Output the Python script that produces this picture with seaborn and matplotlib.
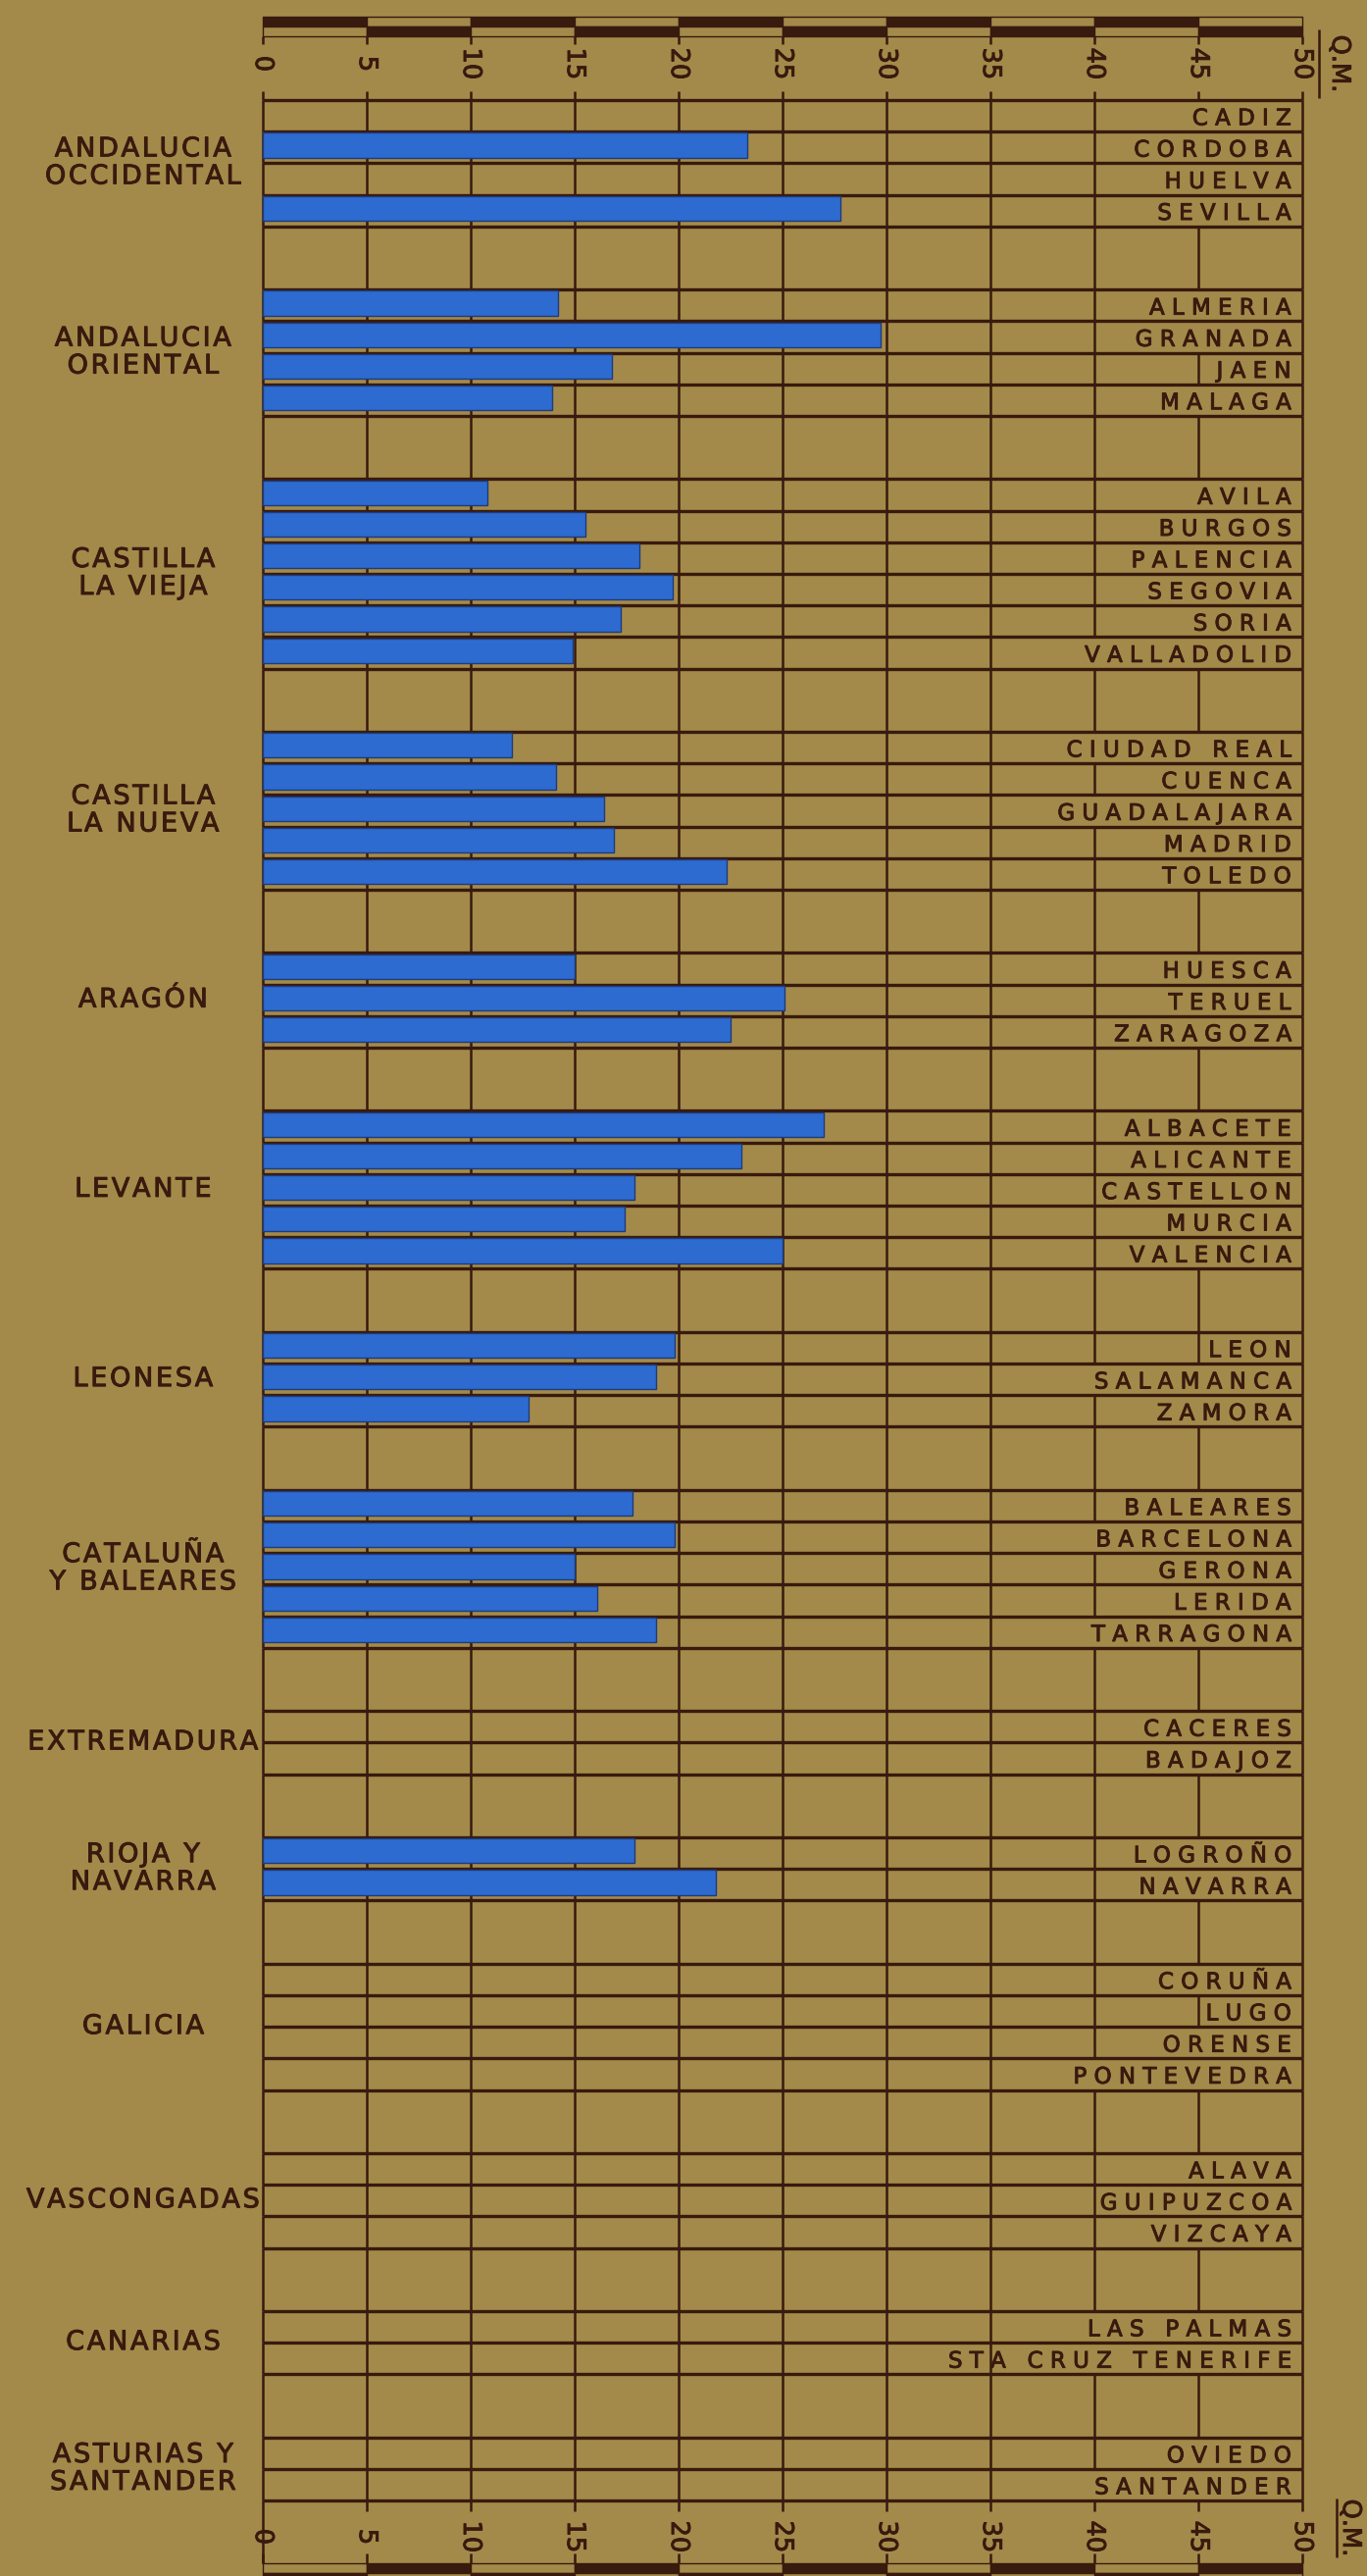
import pandas as pd
import matplotlib
matplotlib.use('Agg')
import matplotlib.pyplot as plt
import matplotlib.patheffects as pe
import seaborn as sns
from matplotlib.patches import Rectangle

# Regiones (de arriba abajo) y sus provincias
regiones = ['ANDALUCIA\nOCCIDENTAL', 'ANDALUCIA\nORIENTAL', 'CASTILLA\nLA VIEJA',
            'CASTILLA\nLA NUEVA', 'ARAGÓN', 'LEVANTE', 'LEONESA', 'CATALUÑA\nY BALEARES',
            'EXTREMADURA', 'RIOJA Y\nNAVARRA', 'GALICIA', 'VASCONGADAS', 'CANARIAS',
            'ASTURIAS Y\nSANTANDER']

provincias = [
    ['CADIZ', 'CORDOBA', 'HUELVA', 'SEVILLA'],
    ['ALMERIA', 'GRANADA', 'JAEN', 'MALAGA'],
    ['AVILA', 'BURGOS', 'PALENCIA', 'SEGOVIA', 'SORIA', 'VALLADOLID'],
    ['CIUDAD REAL', 'CUENCA', 'GUADALAJARA', 'MADRID', 'TOLEDO'],
    ['HUESCA', 'TERUEL', 'ZARAGOZA'],
    ['ALBACETE', 'ALICANTE', 'CASTELLON', 'MURCIA', 'VALENCIA'],
    ['LEON', 'SALAMANCA', 'ZAMORA'],
    ['BALEARES', 'BARCELONA', 'GERONA', 'LERIDA', 'TARRAGONA'],
    ['CACERES', 'BADAJOZ'],
    ['LOGROÑO', 'NAVARRA'],
    ['CORUÑA', 'LUGO', 'ORENSE', 'PONTEVEDRA'],
    ['ALAVA', 'GUIPUZCOA', 'VIZCAYA'],
    ['LAS PALMAS', 'STA CRUZ TENERIFE'],
    ['OVIEDO', 'SANTANDER'],
]

# Quintales metricos por provincia (None = sin barra)
qm = [
    [None, 23.3, None, 27.8],
    [14.2, 29.7, 16.8, 13.9],
    [10.8, 15.5, 18.1, 19.7, 17.2, 14.9],
    [12.0, 14.1, 16.4, 16.9, 22.3],
    [15.0, 25.1, 22.5],
    [27.0, 23.0, 17.9, 17.4, 25.0],
    [19.8, 18.9, 12.8],
    [17.8, 19.8, 15.0, 16.1, 18.9],
    [None, None],
    [17.9, 21.8],
    [None, None, None, None],
    [None, None, None],
    [None, None],
    [None, None],
]

escala = [0, 5, 10, 15, 20, 25, 30, 35, 40, 45, 50]

FONDO = '#A48A4A'
TINTA = '#381A0E'
AZUL = '#2E6BD0'
GRUESO = [pe.withStroke(linewidth=0.7, foreground=TINTA)]

# pixel -> datos
X0, XS = 268, 21.2
Y0, YS = 102, 32.2
W, H = 1394, 2626


def py(p):
    return (p - Y0) / YS


# filas: cada provincia 1 fila, 2 filas de separacion entre regiones
filas = []
bloques = []
grupos = []
y = 0
for i, provs in enumerate(provincias):
    inicio = y
    for j, p in enumerate(provs):
        filas.append((p, y, qm[i][j]))
        y += 1
    grupos.append((regiones[i], inicio, y))
    if i < len(provincias) - 1:
        bloques.append((y, y + 2, None))
        y += 2
total = y

df = pd.DataFrame(filas, columns=['provincia', 'fila', 'qm'])
df['ypos'] = df['fila'] + 0.43
barras = df.dropna(subset=['qm'])

fig = plt.figure(figsize=(W / 100, H / 100), dpi=100, facecolor=FONDO)
ax = fig.add_axes([0, 0, 1, 1])

sns.barplot(data=barras, x='qm', y='ypos', orient='y', native_scale=True, width=0.78,
            color=AZUL, saturation=1, edgecolor='#1D3C7C', linewidth=1.0,
            errorbar=None, zorder=3, ax=ax)
ax.set_xlim(-X0 / XS, (W - X0) / XS)
ax.set_ylim(py(H), py(0))
ax.axis('off')


def espaciado(s, sep=' '):
    return sep.join(list(s))


# nombres de provincias
textos = []
for p, f, v in filas:
    t = ax.text(49.45, f + 0.79, espaciado(p), ha='right', va='baseline',
                fontsize=16.5, color=TINTA, family='DejaVu Sans', zorder=4,
                path_effects=GRUESO)
    textos.append((f, t))

fig.canvas.draw()
rend = fig.canvas.get_renderer()
inv = ax.transData.inverted()
for f, t in textos:
    bb = t.get_window_extent(renderer=rend)
    izq = inv.transform([[bb.x0, bb.y0]])[0][0]
    celda = max(35, int((izq - 0.2) // 5) * 5)
    bloques.append((f, f + 1, celda))

# lineas horizontales
hs = sorted(set([f for _, f, _ in filas] + [f + 1 for _, f, _ in filas]))
ax.hlines(hs, 0, 50, color=TINTA, lw=2.4, zorder=2)

# lineas verticales
xs, y0s, y1s = [], [], []
for gx in escala:
    xs.append(gx); y0s.append(py(93)); y1s.append(0)
    xs.append(gx); y0s.append(total); y1s.append(py(2560) if gx != 0 else py(2613))
    xs.append(gx); y0s.append(py(37)); y1s.append(py(45))
    xs.append(gx); y0s.append(py(2603)); y1s.append(py(2613))
    for a, b, celda in bloques:
        if celda is None or gx <= celda or gx == 50:
            xs.append(gx); y0s.append(a); y1s.append(b)
ax.vlines(xs, y0s, y1s, color=TINTA, lw=1.8, zorder=2)

# barras de escala arriba y abajo
for k in range(10):
    arriba_oscuro = k % 2 == 0
    for (ya, yb, yc), inv_ in [((py(17), py(27), py(37)), False),
                               ((py(2613), py(2623), py(2633)), True)]:
        oscuro1 = arriba_oscuro != inv_
        ax.add_patch(Rectangle((k * 5, ya), 5, yb - ya, facecolor=TINTA if oscuro1 else FONDO,
                               edgecolor=TINTA, lw=1.0, zorder=2))
        ax.add_patch(Rectangle((k * 5, yb), 5, yc - yb, facecolor=FONDO if oscuro1 else TINTA,
                               edgecolor=TINTA, lw=1.0, zorder=2))

# numeros de la escala
for v in escala:
    ax.text(v, py(65), str(v), rotation=-90, ha='center', va='center',
            fontsize=18.5, color=TINTA, path_effects=GRUESO)
    ax.text(v, py(2586), str(v), rotation=-90, ha='center', va='center',
            fontsize=18.5, color=TINTA, path_effects=GRUESO)

# unidad Q.M.
ax.text((1366 - X0) / XS, py(65), 'Q.M.', rotation=-90, ha='center', va='center',
        fontsize=18.5, color=TINTA, path_effects=GRUESO)
ax.vlines((1345 - X0) / XS, py(30), py(100), color=TINTA, lw=1.8)
ax.text((1377 - X0) / XS, py(2577), 'Q.M.', rotation=-90, ha='center', va='center',
        fontsize=18.5, color=TINTA, path_effects=GRUESO)
ax.vlines((1363 - X0) / XS, py(2547), py(2607), color=TINTA, lw=1.8)

# nombres de regiones
for nombre, a, b in grupos:
    lineas = [espaciado(l, '\u200a') for l in nombre.split('\n')]
    ax.text((146 - X0) / XS, (a + b) / 2, '\n'.join(lineas), ha='center', va='center',
            multialignment='center', fontsize=19.5, color=TINTA, linespacing=1.1,
            path_effects=GRUESO)

fig.savefig('out.png', dpi=100, facecolor=FONDO)
